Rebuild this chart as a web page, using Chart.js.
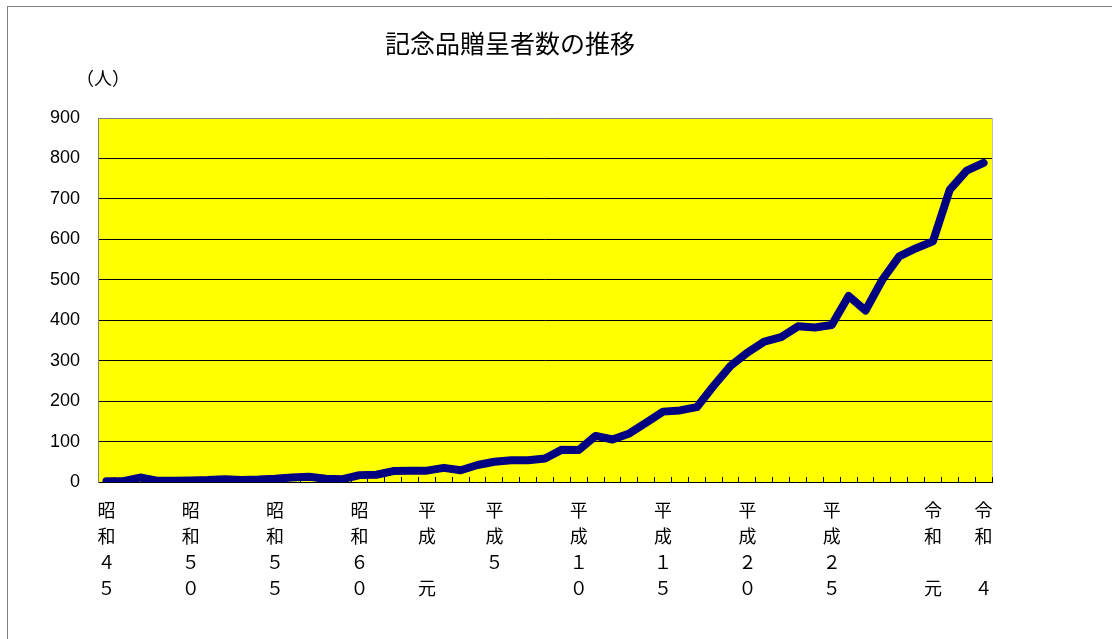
<!DOCTYPE html>
<html lang="ja">
<head>
<meta charset="utf-8">
<title>記念品贈呈者数の推移</title>
<script src="https://cdn.jsdelivr.net/npm/chart.js@4/dist/chart.umd.min.js"></script>
<style>
  html, body { margin: 0; padding: 0; background: #fff; overflow: hidden; }
  body { position: relative; width: 1112px; height: 639px; }
  .frame {
    position: absolute; left: 7px; top: 6px; width: 1200px; height: 700px;
    border-left: 1px solid #808080; border-top: 1px solid #808080;
  }
  .wrap { position: absolute; left: 0; top: 0; width: 1112px; height: 639px; }
</style>
</head>
<body>
<div class="frame"></div>
<div class="wrap"><canvas id="chart_gift"></canvas></div>
<script>
// 年度（和暦）
const eraYears = [
  "昭和45", "昭和46", "昭和47", "昭和48", "昭和49", "昭和50", "昭和51", "昭和52", "昭和53", "昭和54",
  "昭和55", "昭和56", "昭和57", "昭和58", "昭和59", "昭和60", "昭和61", "昭和62", "昭和63", "平成元",
  "平成2", "平成3", "平成4", "平成5", "平成6", "平成7", "平成8", "平成9", "平成10", "平成11",
  "平成12", "平成13", "平成14", "平成15", "平成16", "平成17", "平成18", "平成19", "平成20", "平成21",
  "平成22", "平成23", "平成24", "平成25", "平成26", "平成27", "平成28", "平成29", "平成30", "令和元",
  "令和2", "令和3", "令和4"
];

// 記念品贈呈者数（人）
const giftCounts = [
  2, 2, 11, 3, 3, 4, 5, 7, 5, 6,
  8, 11, 13, 8, 7, 17, 18, 27, 28, 28,
  35, 29, 42, 50, 54, 54, 58, 80, 79, 114,
  105, 120, 147, 174, 177, 185, 238, 287, 320, 347,
  358, 385, 382, 388, 460, 424, 500, 558, 578, 595,
  723, 770, 789
];

// x軸に表示する年度と縦書きの行
const shownYears = ["昭和45", "昭和50", "昭和55", "昭和60", "平成元", "平成5", "平成10", "平成15", "平成20", "平成25", "令和元", "令和4"];
const shownYearLines = [
  ["昭", "和", "４", "５"],
  ["昭", "和", "５", "０"],
  ["昭", "和", "５", "５"],
  ["昭", "和", "６", "０"],
  ["平", "成", "", "元"],
  ["平", "成", "５", ""],
  ["平", "成", "１", "０"],
  ["平", "成", "１", "５"],
  ["平", "成", "２", "０"],
  ["平", "成", "２", "５"],
  ["令", "和", "", "元"],
  ["令", "和", "", "４"]
];

// y軸目盛
const yMin = 0;
const yMax = 900;
const yStep = 100;

const unitLabel = "（人）";

// plot background + right edge, unit label
const plotDecor = {
  id: "plotDecor",
  beforeDraw(chart) {
    const { ctx, chartArea } = chart;
    ctx.save();
    ctx.fillStyle = "#ffff00";
    ctx.fillRect(chartArea.left, chartArea.top, chartArea.right - chartArea.left, chartArea.bottom - chartArea.top);
    ctx.strokeStyle = "#c0c0c0";
    ctx.lineWidth = 1;
    ctx.beginPath();
    ctx.moveTo(Math.round(chartArea.right) + 0.5, chartArea.top);
    ctx.lineTo(Math.round(chartArea.right) + 0.5, chartArea.bottom);
    ctx.stroke();
    ctx.restore();
  },
  afterDraw(chart) {
    const { ctx, chartArea } = chart;
    ctx.save();
    ctx.fillStyle = "#000";
    ctx.font = '18px "Noto Sans CJK JP"';
    ctx.textAlign = "center";
    ctx.textBaseline = "middle";
    ctx.fillText(unitLabel, chartArea.left + 5, chartArea.top - 40);
    ctx.restore();
  }
};

let chartGift;

function initializeGiftChart() {
  const ctx1 = document.getElementById("chart_gift").getContext("2d");
  chartGift = new Chart(ctx1, {
    type: "line",
    data: {
      labels: eraYears,
      datasets: [
        {
          label: "記念品贈呈者数",
          data: giftCounts,
          borderColor: "#000080",
          backgroundColor: "#000080",
          borderWidth: 8,
          borderJoinStyle: "round",
          borderCapStyle: "round",
          pointRadius: 0,
          tension: 0,
          fill: false,
        },
      ],
    },
    options: {
      responsive: true,
      maintainAspectRatio: false,
      animation: false,
      layout: {
        padding: { left: 28, right: 120, top: 0, bottom: 0 },
      },
      scales: {
        x: {
          type: "category",
          offset: true,
          grid: {
            offset: true,
            drawOnChartArea: false,
            drawTicks: true,
            tickLength: -5,
            color: "#000",
          },
          border: { color: "#000", width: 1 },
          ticks: {
            autoSkip: false,
            maxRotation: 0,
            minRotation: 0,
            padding: 20,
            color: "#000",
            font: { family: '"Noto Sans CJK JP"', size: 18, lineHeight: "26px" },
            callback: function (value, index) {
              const pos = shownYears.indexOf(eraYears[index]);
              return pos >= 0 ? shownYearLines[pos] : "";
            },
          },
          afterFit: function (scale) {
            scale.height = 157;
          },
        },
        y: {
          min: yMin,
          max: yMax,
          grid: {
            drawTicks: false,
            lineWidth: 1,
            color: function (c) {
              return c.tick && c.tick.value === yMax ? "#808080" : "#000";
            },
          },
          border: { color: "#808080", width: 1 },
          ticks: {
            stepSize: yStep,
            padding: 18,
            color: "#000",
            font: { family: '"Liberation Sans", Arial, sans-serif', size: 18 },
          },
          afterFit: function (scale) {
            scale.width = 70;
          },
        },
      },
      plugins: {
        legend: { display: false },
        tooltip: { enabled: false },
        title: {
          display: true,
          text: "記念品贈呈者数の推移",
          color: "#000",
          font: { family: '"Noto Sans CJK JP"', size: 25, weight: "normal" },
          padding: { top: 28, bottom: 60 },
        },
      },
    },
    plugins: [plotDecor],
  });
}

initializeGiftChart();
</script>
</body>
</html>
